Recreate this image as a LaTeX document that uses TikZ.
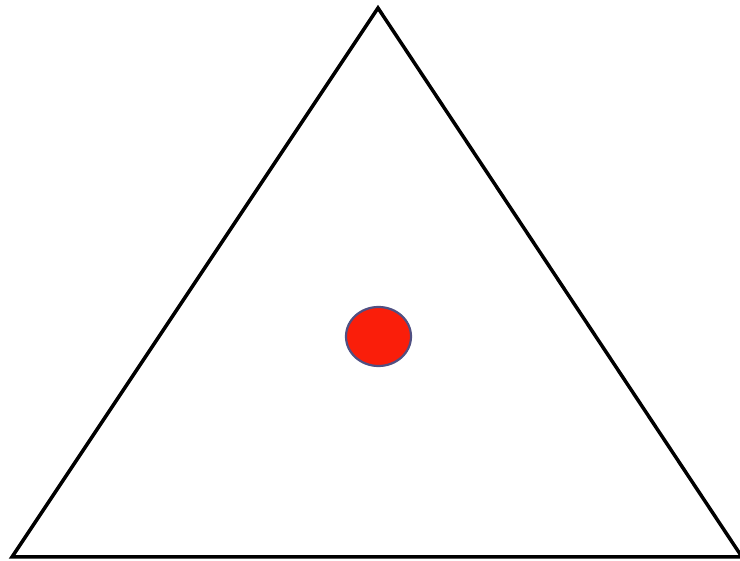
\documentclass[tikz,border=0pt]{standalone}
\usepackage{tikz}
\usetikzlibrary{shapes.geometric}
\definecolor{dotred}{RGB}{250,30,10}
\definecolor{dotrim}{RGB}{80,80,130}
\tikzset{
  % triangle outline
  edge/.style={draw=black, line width=3.5pt, line join=miter},
  % the point inside
  reddot/.style={ellipse, fill=dotred, draw=dotrim, line width=2.2pt,
    minimum width=65pt, minimum height=59pt, inner sep=0pt}
}
\begin{document}
\begin{tikzpicture}[x=1pt, y=-1pt]
  \useasboundingbox[fill=white] (0,0) rectangle (740,561);

  % corners of the triangle
  \coordinate (apex) at (378, 8);
  \coordinate (left) at (12, 557);
  \coordinate (right) at (742, 557);

  \draw[edge] (left) -- (apex) -- (right) -- cycle;

  % dot near the middle
  \node[reddot] (dot) at (378.5, 336.5) {};
\end{tikzpicture}
\end{document}
